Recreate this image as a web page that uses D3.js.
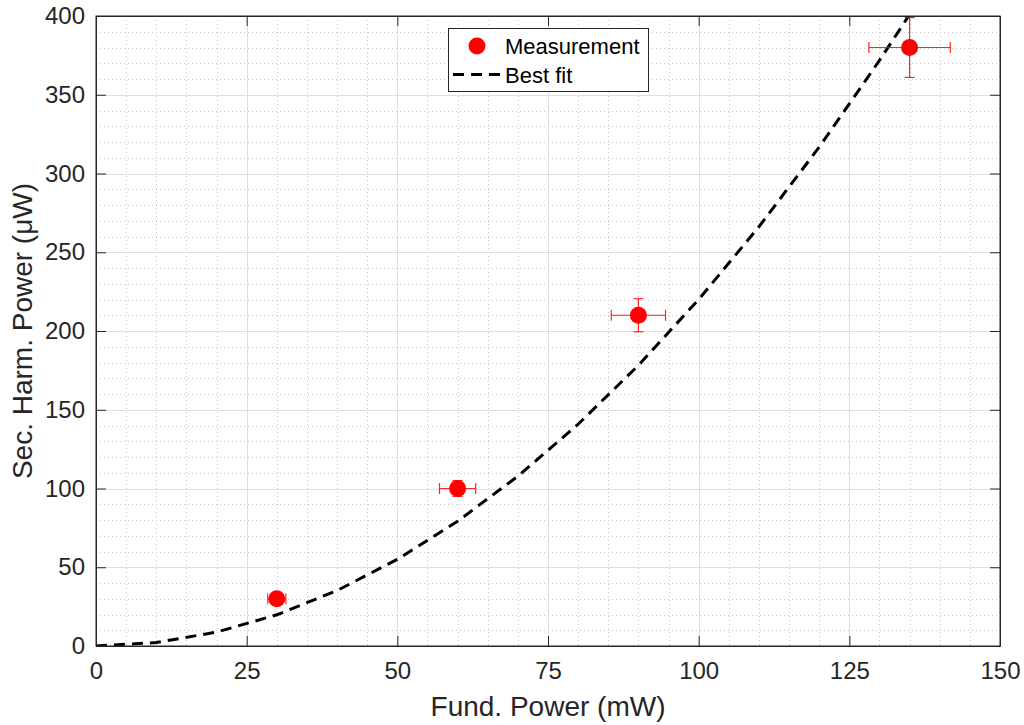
<!DOCTYPE html>
<html>
<head>
<meta charset="utf-8">
<script src="https://cdn.jsdelivr.net/npm/d3@7"></script>
<style>
  body { margin: 0; background: #fff; }
  svg { display: block; font-family: "Liberation Sans", Arial, sans-serif; }
</style>
</head>
<body>
<div id="chart-area"></div>
<script>
// measurement points with error bars
const fundPower = [30, 60, 90, 135]
const harmPower = [30, 100, 210, 380]
const fundErr = [1.5, 3, 4.5, 6.75]
const harmErr = [1.5, 5, 10.5, 19]

// best fit curve
const fitX = [0, 10, 20, 30, 40, 50, 60, 70, 80, 90, 100, 110, 120, 130, 134.5, 140]
const fitY = [0, 2.2, 8.8, 19.8, 35.2, 55, 79.2, 107.8, 140.8, 178.2, 220, 266.2, 316.8, 371.8, 398, 431]

const xTicks = [0, 25, 50, 75, 100, 125, 150]
const yTicks = [0, 50, 100, 150, 200, 250, 300, 350, 400]

const MARGIN = {LEFT: 96, RIGHT: 24, TOP: 16, BOTTOM: 79}
const WIDTH = 1024 - MARGIN.LEFT - MARGIN.RIGHT
const HEIGHT = 725 - MARGIN.TOP - MARGIN.BOTTOM
const AXIS = "#262626"

const svg = d3.select("#chart-area").append("svg")
    .attr("width", 1024)
    .attr("height", 725)

const g = svg.append("g")
    .attr("transform", `translate(${MARGIN.LEFT}, ${MARGIN.TOP})`)

const x = d3.scaleLinear().domain([0, 150]).range([0, WIDTH])
const y = d3.scaleLinear().domain([0, 400]).range([HEIGHT, 0])

g.append("clipPath").attr("id", "clip")
  .append("rect").attr("width", WIDTH).attr("height", HEIGHT)

// minor grid (dotted)
g.append("g").selectAll("line")
    .data(d3.range(5, 150, 5).filter(v => v % 25 !== 0))
    .enter().append("line")
    .attr("x1", d => Math.round(x(d)) + 0.5).attr("x2", d => Math.round(x(d)) + 0.5)
    .attr("y1", 0).attr("y2", HEIGHT)
    .attr("stroke", "#c8c8c8").attr("stroke-dasharray", "1,3")
g.append("g").selectAll("line")
    .data(d3.range(10, 400, 10).filter(v => v % 50 !== 0))
    .enter().append("line")
    .attr("y1", d => Math.round(y(d)) + 0.5).attr("y2", d => Math.round(y(d)) + 0.5)
    .attr("x1", 0).attr("x2", WIDTH)
    .attr("stroke", "#c8c8c8").attr("stroke-dasharray", "1,3")

// major grid
g.append("g").selectAll("line")
    .data(xTicks.slice(1, -1))
    .enter().append("line")
    .attr("x1", d => Math.round(x(d)) + 0.5).attr("x2", d => Math.round(x(d)) + 0.5)
    .attr("y1", 0).attr("y2", HEIGHT)
    .attr("stroke", "#dfdfdf")
g.append("g").selectAll("line")
    .data(yTicks.slice(1, -1))
    .enter().append("line")
    .attr("y1", d => Math.round(y(d)) + 0.5).attr("y2", d => Math.round(y(d)) + 0.5)
    .attr("x1", 0).attr("x2", WIDTH)
    .attr("stroke", "#dfdfdf")

// axes
const xAxisCall = d3.axisBottom(x).tickValues(xTicks).tickSizeInner(-10).tickSizeOuter(0).tickPadding(16)
const yAxisCall = d3.axisLeft(y).tickValues(yTicks).tickSizeInner(-10).tickSizeOuter(0).tickPadding(11)
g.append("g").attr("transform", `translate(0, ${HEIGHT})`).call(xAxisCall)
g.append("g").call(yAxisCall)
g.append("g").call(d3.axisTop(x).tickValues(xTicks).tickSizeInner(-10).tickSizeOuter(0).tickFormat(""))
g.append("g").attr("transform", `translate(${WIDTH}, 0)`)
  .call(d3.axisRight(y).tickValues(yTicks).tickSizeInner(-10).tickSizeOuter(0).tickFormat(""))
g.selectAll(".domain").attr("stroke", AXIS)
g.selectAll(".tick line").attr("stroke", AXIS)
g.selectAll(".tick text").attr("fill", AXIS).attr("font-size", "24px")
  .attr("font-family", "Liberation Sans, Arial, sans-serif")

// best fit
const line = d3.line().x((d, i) => x(fitX[i])).y(d => y(d))
g.append("path")
    .datum(fitY)
    .attr("clip-path", "url(#clip)")
    .attr("d", line)
    .attr("fill", "none")
    .attr("stroke", "#000")
    .attr("stroke-width", 3)
    .attr("stroke-dasharray", "11,7")

// error bars
const pts = fundPower.map((v, i) => ({x: v, y: harmPower[i], ex: fundErr[i], ey: harmErr[i]}))
const eb = g.append("g").attr("stroke", "#ff0000").attr("stroke-opacity", 0.85).attr("stroke-width", 1.2)
pts.forEach(p => {
  const cx = x(p.x), cy = y(p.y)
  eb.append("line").attr("x1", x(p.x - p.ex)).attr("x2", x(p.x + p.ex)).attr("y1", cy).attr("y2", cy)
  eb.append("line").attr("x1", cx).attr("x2", cx).attr("y1", y(p.y - p.ey)).attr("y2", y(p.y + p.ey))
  eb.append("line").attr("x1", x(p.x - p.ex)).attr("x2", x(p.x - p.ex)).attr("y1", cy - 5.5).attr("y2", cy + 5.5)
  eb.append("line").attr("x1", x(p.x + p.ex)).attr("x2", x(p.x + p.ex)).attr("y1", cy - 5.5).attr("y2", cy + 5.5)
  eb.append("line").attr("y1", y(p.y - p.ey)).attr("y2", y(p.y - p.ey)).attr("x1", cx - 5).attr("x2", cx + 5)
  eb.append("line").attr("y1", y(p.y + p.ey)).attr("y2", y(p.y + p.ey)).attr("x1", cx - 5).attr("x2", cx + 5)
})

g.selectAll("circle.pt")
    .data(pts)
    .enter().append("circle")
    .attr("class", "pt")
    .attr("cx", d => x(d.x))
    .attr("cy", d => y(d.y))
    .attr("r", 8.5)
    .attr("fill", "#ff0000")

// box on top
g.append("rect").attr("width", WIDTH).attr("height", HEIGHT)
    .attr("fill", "none").attr("stroke", AXIS).attr("stroke-width", 1)

// labels
svg.append("text")
    .attr("x", MARGIN.LEFT + WIDTH / 2)
    .attr("y", 716)
    .attr("font-size", "28px")
    .attr("text-anchor", "middle")
    .attr("fill", AXIS)
    .text("Fund. Power (mW)")

svg.append("text")
    .attr("transform", `translate(32, ${MARGIN.TOP + HEIGHT / 2}) rotate(-90)`)
    .attr("font-size", "28px")
    .attr("text-anchor", "middle")
    .attr("fill", AXIS)
    .text("Sec. Harm. Power (\u03bcW)")

// legend
const lg = svg.append("g")
lg.append("rect")
    .attr("x", 448.5).attr("y", 28.5).attr("width", 200).attr("height", 63)
    .attr("fill", "#fff").attr("stroke", AXIS).attr("stroke-width", 1)
lg.append("circle").attr("cx", 477).attr("cy", 46).attr("r", 8.5).attr("fill", "#ff0000")
lg.append("line").attr("x1", 453).attr("x2", 500).attr("y1", 74.5).attr("y2", 74.5)
    .attr("stroke", "#000").attr("stroke-width", 3).attr("stroke-dasharray", "11,7")
lg.append("text").attr("x", 505).attr("y", 54).attr("font-size", "22px").attr("fill", "#000").text("Measurement")
lg.append("text").attr("x", 505).attr("y", 83).attr("font-size", "22px").attr("fill", "#000").text("Best fit")
</script>
</body>
</html>
